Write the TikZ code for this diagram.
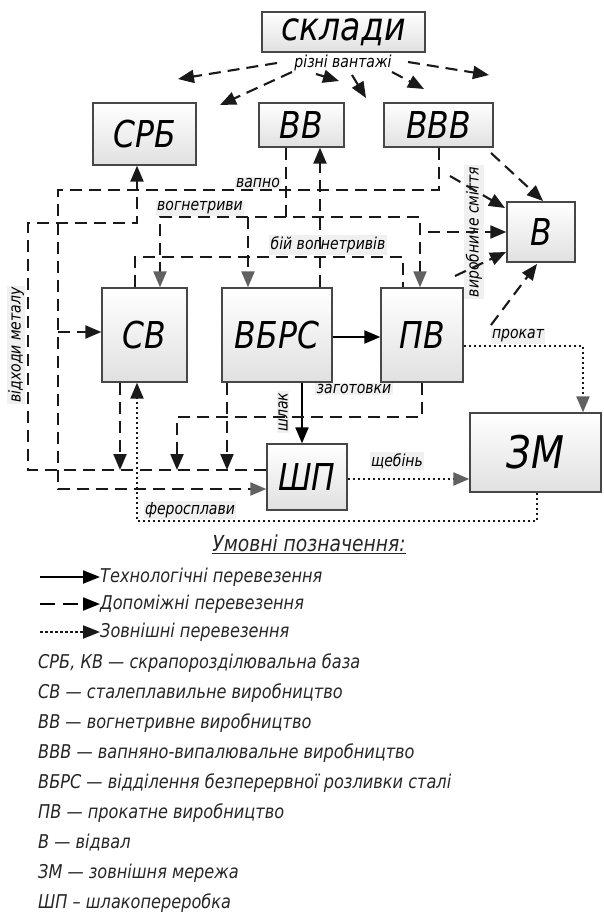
\documentclass[tikz,border=0pt]{standalone}
\usepackage{fontspec}
\setmainfont{DejaVu Sans}[FakeStretch=0.85]
\usetikzlibrary{arrows.meta}
\begin{document}
\begin{tikzpicture}[x=1pt,y=-1pt,
  box/.style={draw=black!72, line width=1.3pt, top color=white, bottom color=black!12, inner sep=0pt,
    font=\itshape\fontsize{37}{37}\selectfont},
  aux/.style={line width=2.1pt, dash pattern=on 12pt off 7pt, black!90},
  ext/.style={line width=2.1pt, dash pattern=on 2.5pt off 2.5pt, black!90},
  tech/.style={line width=2.1pt, black},
  tip/.style={-{Triangle[length=16pt,width=13pt]}},
  gtip/.style={-{Triangle[length=16pt,width=13pt,color=black!62]}},
  lbl/.style={font=\itshape\fontsize{16.5}{16.5}\selectfont, fill=black!6, inner sep=1.5pt},
  legtext/.style={font=\itshape\fontsize{19}{19}\selectfont, inner sep=0pt, anchor=west, black!85}
]
\useasboundingbox (0,0) rectangle (603,920);

% boxes
\node[box, minimum width=163pt, minimum height=40pt, font=\itshape\fontsize{39}{39}\selectfont] (skl) at (343.5,32) {склади};
\node[box, minimum width=103pt, minimum height=62pt] (srb) at (144.5,134) {СРБ};
\node[box, minimum width=85pt, minimum height=44pt] (vv) at (301.5,125) {ВВ};
\node[box, minimum width=109pt, minimum height=44pt] (vvv) at (438.5,125) {ВВВ};
\node[box, minimum width=68pt, minimum height=60pt] (v) at (541,232) {В};
\node[box, minimum width=85pt, minimum height=94pt] (sv) at (144.5,335) {СВ};
\node[box, minimum width=110pt, minimum height=94pt] (vbrs) at (277,335) {ВБРС};
\node[box, minimum width=82pt, minimum height=94pt] (pv) at (422,335) {ПВ};
\node[box, minimum width=80pt, minimum height=66pt] (shp) at (307,477) {ШП};
\node[box, minimum width=131pt, minimum height=79pt, font=\itshape\fontsize{45}{45}\selectfont] (zm) at (535.5,452.5) {ЗМ};

% labels
\node[lbl, fill=white] (lrv) at (343,63) {різні вантажі};
\node[lbl] (lvapno) at (258,183) {вапно};
\node[lbl] (lvogn) at (200,208) {вогнетриви};
\node[lbl] (lbij) at (328,245) {бій вогнетривів};
\node[lbl] (lzag) at (354,389) {заготовки};
\node[lbl, rotate=90] (lshl) at (283,412) {шлак};
\node[lbl] (lprok) at (518,336) {прокат};
\node[lbl] (lscheb) at (397,461) {щебінь};
\node[lbl] (lfer) at (190,510) {феросплави};
\node[lbl, rotate=90] (lsm) at (474,232) {виробниче сміття};
\node[lbl, rotate=90] (lmet) at (16,345) {відходи металу};

% arrows from склади
\coordinate (r1s) at (277,63); \coordinate (r1e) at (178,79);
\coordinate (r2s) at (292,72); \coordinate (r2e) at (220,105);
\coordinate (r3s) at (316,74); \coordinate (r3e) at (339,81);
\coordinate (r4s) at (352,75); \coordinate (r4e) at (366,98);
\coordinate (r5s) at (392,72); \coordinate (r5e) at (424,89);
\coordinate (r6s) at (408,62); \coordinate (r6e) at (489,75);
\foreach \i in {1,...,6} { \draw[aux,tip] (r\i s) -- (r\i e); }

% відходи металу
\draw[aux,tip] (shp.west |- 0,470) -- (28,470) -- (28,223) -- (137,223) -- (srb.south -| 137,0);
% вапно
\draw[aux,gtip] (vvv.south -| 439,0) -- (439,190) -- (58,190) -- (58,489) -- (shp.west |- 0,489);
\draw[aux,tip] (58,332) -- (sv.west |- 0,332);
% вогнетриви
\draw[aux,gtip] (vv.south -| 286,0) -- (286,217) -- (420,217) -- (pv.north -| 420,0);
\draw[aux,gtip] (286,217) -- (160,217) -- (sv.north -| 160,0);
\draw[aux,gtip] (248,217) -- (vbrs.north -| 248,0);
\draw[aux,tip] (428,232) -- (v.west |- 0,232);
% бій вогнетривів
\draw[aux] (sv.north -| 135,0) -- (135,257) -- (403,257) -- (pv.north -| 403,0);
\draw[aux,tip] (vbrs.north -| 320,0) -- (vv.south -| 320,0);
% виробниче сміття
\coordinate (m1s) at (491,153); \coordinate (m1e) at (543,201);
\coordinate (m2s) at (450,176); \coordinate (m2e) at (505,208);
\coordinate (m3s) at (455,276); \coordinate (m3e) at (506,252);
\coordinate (m4s) at (491,325); \coordinate (m4e) at (537,264);
\foreach \i in {1,...,4} { \draw[aux,tip] (m\i s) -- (m\i e); }

% technological
\draw[tech,tip] (vbrs.east |- 0,337) -- (pv.west |- 0,337);
\draw[tech,tip] (vbrs.south -| 302,0) -- (shp.north -| 302,0);

% to the slag line
\draw[aux,tip] (sv.south -| 120,0) -- (120,470);
\draw[aux,tip] (vbrs.south -| 227,0) -- (227,470);
\draw[aux,tip] (pv.south -| 422,0) -- (422,417) -- (177,417) -- (177,470);

% external
\draw[ext,tip] (zm.south -| 537,0) -- (537,521) -- (137,521) -- (sv.south -| 137,0);
\draw[ext,gtip] (pv.east |- 0,346) -- (583,346) -- (zm.north -| 583,0);
\draw[ext,gtip] (shp.east |- 0,479) -- (zm.west |- 0,479);

% legend
\node[font=\itshape\fontsize{22}{22}\selectfont, inner sep=0pt, black!85] (leg) at (309,544) {\underline{Умовні позначення:}};
\node[legtext] (l1) at (100,577) {Технологічні перевезення};
\node[legtext] (l2) at (100,604) {Допоміжні перевезення};
\node[legtext] (l3) at (100,632) {Зовнішні перевезення};
\coordinate (l1s) at (40,577); \coordinate (l2s) at (40,604); \coordinate (l3s) at (40,632);
\draw[tech,-{Triangle[length=17pt,width=13pt]}] (l1s) -- (l1.west);
\draw[line width=2.1pt, dash pattern=on 15pt off 8pt,-{Triangle[length=17pt,width=13pt]}] (l2s) -- (l2.west);
\draw[ext,-{Triangle[length=17pt,width=13pt]}] (l3s) -- (l3.west);

\node[legtext] (t1) at (38,663) {СРБ, КВ — скрапорозділювальна база};
\node[legtext] (t2) at (38,693) {СВ — сталеплавильне виробництво};
\node[legtext] (t3) at (38,723) {ВВ — вогнетривне виробництво};
\node[legtext] (t4) at (38,753) {ВВВ — вапняно-випалювальне виробництво};
\node[legtext] (t5) at (38,783) {ВБРС — відділення безперервної розливки сталі};
\node[legtext] (t6) at (38,813) {ПВ — прокатне виробництво};
\node[legtext] (t7) at (38,843) {В — відвал};
\node[legtext] (t8) at (38,873) {ЗМ — зовнішня мережа};
\node[legtext] (t9) at (38,903) {ШП – шлакопереробка};
\end{tikzpicture}
\end{document}
